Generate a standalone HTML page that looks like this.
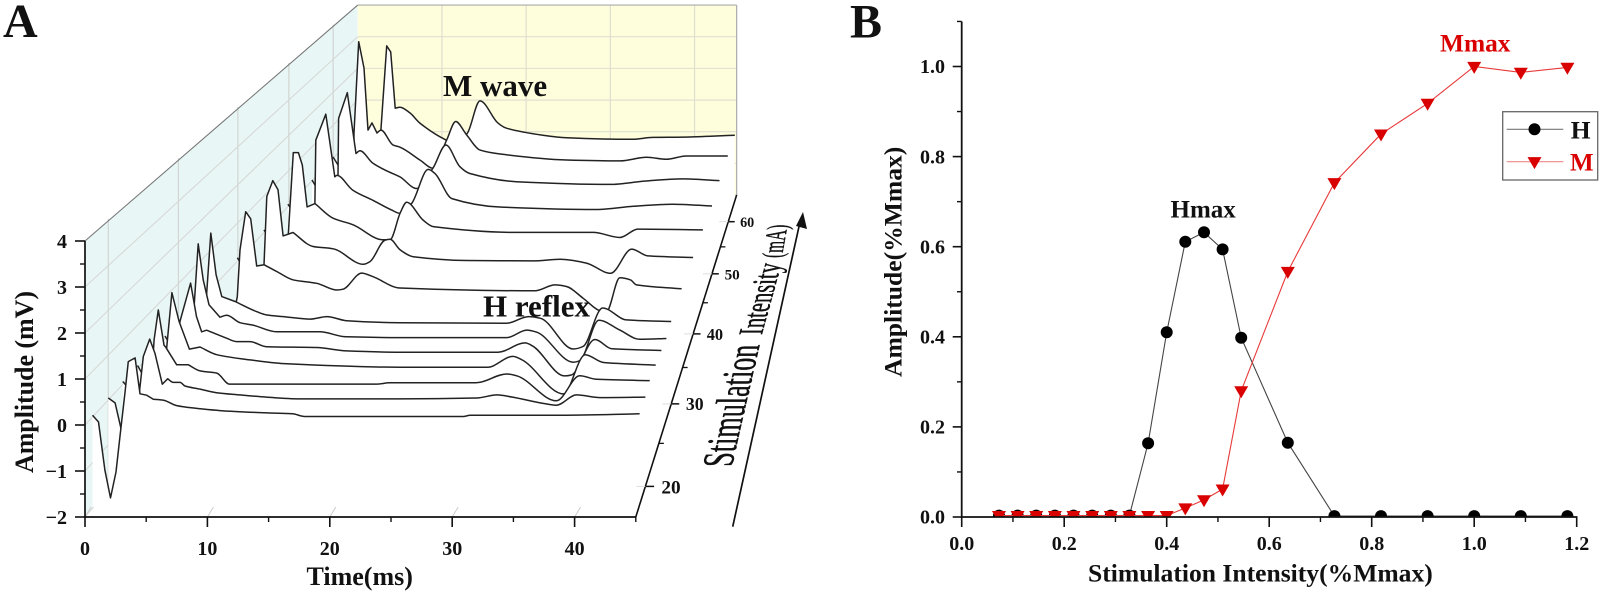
<!DOCTYPE html>
<html lang="en">
<head>
<meta charset="utf-8">
<title>M wave and H reflex recruitment</title>
<style>
html,body{margin:0;padding:0;background:#fff;width:1601px;height:593px;overflow:hidden}
svg{display:block;font-family:"Liberation Serif",serif}
text{font-weight:bold;fill:#111}
</style>
</head>
<body>
<svg id="fig" xmlns="http://www.w3.org/2000/svg" width="1601" height="593" viewBox="0 0 1601 593">
  <defs><clipPath id="plotB"><rect x="961" y="10" width="640" height="507"/></clipPath></defs>
  <g id="walls"></g>
  <g id="traces"></g>
  <g id="axesA"></g>
  <text x="3" y="37" font-size="48">A</text>
  <text x="850" y="37.5" font-size="48">B</text>
  <text x="443" y="96" font-size="31">M wave</text>
  <text x="483" y="316.5" font-size="31">H reflex</text>
  <text x="306.5" y="585" font-size="26">Time(ms)</text>
  <text transform="translate(33,473) rotate(-90)" font-size="26" textLength="182" lengthAdjust="spacing">Amplitude (mV)</text>
  <g>
    <text style="font-weight:normal;stroke:#111;stroke-width:.5" font-size="40" transform="matrix(.15,-.654,1.1,0,731.7,466.7)">Stimulation</text>
    <text style="font-weight:normal;stroke:#111;stroke-width:.5" font-size="33" transform="matrix(.173,-.624,1.05,0,761.7,335)">Intensity</text>
    <text style="font-weight:normal;stroke:#111;stroke-width:.4" font-size="28" transform="matrix(.1,-.55,1.05,0,781.7,258)">(mA)</text>
  </g>
  <line x1="732.7" y1="526.7" x2="800" y2="222" stroke="#111" stroke-width="1.7"/>
  <polygon points="803,212 807,229 796,226" fill="#111"/>
  <g id="axesB"></g>
  <g id="seriesB" clip-path="url(#plotB)"></g>
  <text x="1170.5" y="217.5" font-size="25">Hmax</text>
  <text x="1440" y="51.5" font-size="25.4" style="fill:#d90000">Mmax</text>
  <text x="1088" y="581.5" font-size="25.6">Stimulation Intensity(%Mmax)</text>
  <text transform="translate(901.5,377) rotate(-90)" font-size="25.6">Amplitude(%Mmax)</text>
  <g>
    <rect x="1502.7" y="111.7" width="95" height="68.3" fill="#fff" stroke="#666" stroke-width="1.3"/>
    <g>
      <line x1="1506.7" y1="129.3" x2="1563.3" y2="129.3" stroke="#777" stroke-width="1.2"/>
      <circle cx="1534.5" cy="129.3" r="6" fill="#000"/>
      <text x="1570.7" y="138.3" font-size="25.5">H</text>
    </g>
    <g>
      <line x1="1506.7" y1="161.7" x2="1563.3" y2="161.7" stroke="#ee8888" stroke-width="1.2"/>
      <polygon points="1527.5,157.1 1541.5,157.1 1534.5,169.1" fill="#d90000"/>
      <text x="1570" y="170.7" font-size="25" style="fill:#d90000">M</text>
    </g>
  </g>
</svg>
<script>
// ===== Panel A data: one time array and one amplitude array per stimulation intensity =====
const intensities = [65,60,55,50,45,40,35,30,28,26,24,22,20,18];
const t65=[-.28,.5,1.3,2.2,3.06,3.74,4.21,4.75,5.31,6.49,7.67,10.6,12,13.3,14.77,16.9,17.9,22.2,25,32.8,35.2,38.8,44.9];
const a65=[-.02,-.4,-2,-1,.14,2.79,2.6,.83,.86,.68,.36,-.15,-.3,.05,1.06,.36,.2,-.02,-.1,-.15,-.09,-.08,-.02];
const t60=[-.24,.4,1.3,2.1,2.16,2.7,3.31,3.76,4.22,4.79,5.25,6.62,7.43,9.71,11.2,12.77,13.8,15.06,16.6,18.9,26.5,32.6,35.65,37.9,40.2,44.95];
const a60=[-.03,-.3,-2,-1,.7,3.48,2.68,.79,1.01,.7,.79,.34,.27,-.12,-.37,.49,1.05,.64,.18,.06,-.12,-.15,-.04,-.1,0,0];
const t55=[-.2,.4,1.3,2,2.68,2.75,3.71,4.67,5.11,6.55,8.06,9.54,11.38,13.19,14.62,16.17,17.28,22.4,32.8,36.8,40.8,44.9];
const a55=[-.03,-.3,-2,-1,.11,1.78,2.54,.75,.83,.46,.24,.06,-.28,.32,1,.36,.16,-.08,-.16,-.06,0,-.05];
const t50=[-.33,.4,1.3,2.1,2.56,2.66,3.73,4.69,4.91,6.6,8.76,10.8,11.65,12.9,14.67,15.4,17.2,22.3,32.7,36.6,40.8,45];
const a50=[-.02,-.3,-1.9,-1,0,1.8,2.54,.76,.8,.38,.09,-.19,-.28,0,.97,.85,.14,-.1,-.17,-.08,-.02,-.07];
const t45=[-.25,.4,1.3,2,2.26,2.77,3.29,3.7,4.19,5.01,6.87,8.93,12,12.74,13.8,14.46,16.14,17.2,25.8,33.7,36.45,38.3,45];
const a45=[0,-.3,-1.8,-1,-.08,2.12,2.12,1.78,.63,.72,.32,.14,-.27,-.27,.47,.76,.27,.09,-.07,-.07,-.21,.02,0];
const t40=[-.27,.4,1.3,2,2.38,2.65,3.25,3.77,4.27,5.26,7.25,9.24,12.24,12.9,14.4,14.9,15.9,17.2,22.5,29.1,31.8,34.4,36.8,38.9,40.5,45];
const a40=[.01,-.3,-1.7,-1,-.18,1.63,2.05,1.81,.59,.68,.31,.25,-.16,-.09,.48,.5,.22,.04,-.06,-.07,-.03,-.13,-.4,.24,.06,.02];
const t35=[-.25,.4,1.3,2,2.45,2.71,3.26,3.73,4.31,5.03,6.22,7.77,10.04,11.95,12.55,14.34,15.4,18,30.9,32.8,33.9,35.5,37.1,37.7,39,40,40.6,44.9];
const a35=[.02,-.3,-1.6,-.8,-.2,.99,1.96,1.78,.58,.61,.44,.23,.14,-.03,-.01,.4,.31,.02,-.05,.1,.06,-.24,-.56,-.59,.28,.23,.1,0];
const t30=[-.25,.4,1.3,2.1,2.35,2.75,3.24,3.76,4.98,6.97,7.9,9.39,11.86,13.4,15.2,20.1,29.9,31.9,33,36,36.9,38.7,40.9,45];
const a30=[0,-.3,-1.6,-.5,.6,2.17,1.15,.62,.5,.25,.17,.13,.07,.13,.03,-.02,-.03,.13,.09,-.66,-.6,.34,.05,.01];
const t28=[-.25,.4,1.3,2,2.27,2.75,3.2,3.72,4.71,5.32,6.52,7.69,9.83,13.7,16.1,21,30.6,32.4,33.3,36.6,37.2,38.9,40.8,42.6,45];
const a28=[0,-.3,-1.6,-.3,.26,2.21,1.35,.75,.45,.5,.32,.26,.1,.1,-.02,-.04,-.04,.14,.09,-.63,-.59,.38,.14,-.08,-.06];
const t26=[-.25,.4,1.3,2,2.27,3.22,3.75,4.2,4.64,6.42,7.3,8.48,9.96,14.4,17.06,21.8,30.5,32.9,33.6,36.4,37,39.1,40.6,45];
const a26=[0,-.3,-1.7,-.6,.68,1.59,.8,.44,.48,.29,.21,.21,.09,.07,-.01,-.04,-.04,.18,.1,-.6,-.58,.26,.04,0];
const t24=[-.25,.4,1.3,2,2.31,2.75,3.38,4.28,5.21,6.67,9.57,12.77,22.65,30.3,32.5,33.3,36.9,38.8,40.4,44.95];
const a24=[0,-.3,-1.8,-.5,.44,1.69,1.02,.38,.43,.25,.13,.04,-.04,-.04,.21,.13,-.66,.25,.07,.01];
const t22=[-.27,.2,1.3,2,2.42,2.78,3.27,3.42,4.36,5.36,6.36,7.79,8.87,21.5,22.6,30,32.64,33.5,36.9,38.9,40.35,44.9];
const a22=[-.01,-.15,-1.8,-.8,.94,1.62,.82,.77,.37,.37,.23,.18,-.07,-.07,-.04,-.04,.16,.12,-.45,.12,.04,.01];
const t20=[-.22,.35,.93,1.36,1.86,2.39,2.73,3.27,3.71,4.33,4.78,5.25,5.82,6.24,7.5,8.9,10.87,13.1,15.9,24.3,30.8,32.5,33.8,36.4,37.5,39.2,41.2,45];
const a20=[-.02,-.13,-.8,-1.86,-1.63,.09,.91,1.3,.98,.29,.41,.33,.33,.25,.18,.1,.05,0,-.04,-.04,-.02,.05,0,-.14,-.18,.05,-.01,0];
const t18=[-.24,.26,.79,1.25,1.7,2.03,2.42,2.72,3.28,3.69,4.24,4.79,5.62,6.72,8.38,10.3,14.2,16.3,17.3,22.5,30.4,31,38.4,45];
const a18=[-.03,-.18,-1.24,-1.85,-1.28,-.51,.41,1.15,1.23,.44,.41,.32,.3,.18,.12,.07,.02,0,-.06,-.06,-.06,-.03,-.03,0];
const traceTimes = [t65,t60,t55,t50,t45,t40,t35,t30,t28,t26,t24,t22,t20,t18];
const traceAmps  = [a65,a60,a55,a50,a45,a40,a35,a30,a28,a26,a24,a22,a20,a18];
const timeTicks = [0,10,20,30,40];
const timeMinorTicks = [5,15,25,35,45];
const ampTicks = [-2,-1,0,1,2,3,4];
const ampMinorTicks = [-1.5,-.5,.5,1.5,2.5,3.5];
const depthTicks = [20,30,40,50,60];
const depthMinorTicks = [25,35,45,55];

// ===== Panel B data =====
const stimulationMa = [4,6,8,10,12,14,16,18,20,22,24,26,28,30,35,40,45,50,55,60,65];
const mmaxCurrent = [55];
const hValues = [.003,.003,.003,.003,.003,.003,.003,.003,.1635,.41,.611,.632,.594,.398,.165,.002,.002,.002,.002,.002,.002];
const mValues = [.003,.003,.003,.003,.003,.003,.003,.003,.003,.003,.02,.038,.062,.28,.545,.742,.85,.918,1,.987,.998];
const xTicksB = [0,.2,.4,.6,.8,1,1.2];
const xMinorTicksB = [.1,.3,.5,.7,.9,1.1];
const yTicksB = [0,.2,.4,.6,.8,1];
const yMinorTicksB = [.1,.3,.5,.7,.9,1.1];

const NS='http://www.w3.org/2000/svg';
function mk(tag,parent,attrs){
  const e=document.createElementNS(NS,tag);
  for(const k in attrs){e.setAttribute(k,attrs[k]);}
  parent.appendChild(e);
  return e;
}
function line(parent,x1,y1,x2,y2,stroke,w){
  return mk('line',parent,{x1:x1,y1:y1,x2:x2,y2:y2,stroke:stroke,'stroke-width':w});
}
function label(parent,x,y,size,anchor,str){
  const e=mk('text',parent,{x:x,y:y,'font-size':size,'text-anchor':anchor});
  e.textContent=str;
  return e;
}
function fmt(v){return String(v).replace('-','\u2212');}

// Perspective projection of (time, amplitude, intensity) to page pixels
const VX=959,VY=-515;
function depthScale(c){return 1/(1+0.449*(c-16.7)/48.5);}
function frontX(t){return 85+12.24*t;}
function frontY(a){return 517-46*(a+2);}
function px(t,c){return VX+(frontX(t)-VX)*depthScale(c);}
function py(a,c){return VY+(frontY(a)-VY)*depthScale(c);}
const BACK=65.7,T_MAX=45,A_TOP=4,A_BOT=-2;

// Straight segments through the stimulus spike, monotone cubic afterwards
const SMOOTH_FROM=4.6;
function tracePath(ts,as,c){
  const X=ts.map(function(t){return px(t,c);});
  const Y=as.map(function(a){return py(a,c);});
  const n=X.length;
  const slope=[];
  for(let i=0;i<n-1;i++){slope.push((Y[i+1]-Y[i])/Math.max(X[i+1]-X[i],.01));}
  const tan=[];
  for(let i=0;i<n;i++){
    if(i===0||i===n-1||ts[i-1]<SMOOTH_FROM){tan.push(i<n-1?slope[i]:slope[n-2]);continue;}
    const a=slope[i-1],b=slope[i];
    tan.push(a*b<=0?0:2*a*b/(a+b));
  }
  let d='M'+X[0].toFixed(1)+' '+Y[0].toFixed(1);
  for(let i=0;i<n-1;i++){
    if(ts[i]<SMOOTH_FROM){d+=' L'+X[i+1].toFixed(1)+' '+Y[i+1].toFixed(1);continue;}
    const h=(X[i+1]-X[i])/3;
    d+=' C'+(X[i]+h).toFixed(1)+' '+(Y[i]+tan[i]*h).toFixed(1)+' '+(X[i+1]-h).toFixed(1)+' '+(Y[i+1]-tan[i+1]*h).toFixed(1)+' '+X[i+1].toFixed(1)+' '+Y[i+1].toFixed(1);
  }
  return {d:d,x0:X[0],x1:X[n-1]};
}

// ----- Walls -----
const walls=document.getElementById('walls');
const leftWall=mk('polygon',walls,{points:[[px(0,16.7),py(A_TOP,16.7)],[px(0,BACK),py(A_TOP,BACK)],[px(0,BACK),py(A_BOT,BACK)],[px(0,16.7),py(A_BOT,16.7)]].join(' '),fill:'#e9f6f6'});


const backWall=mk('polygon',walls,{points:[[px(0,BACK),py(A_TOP,BACK)],[px(T_MAX,BACK),py(A_TOP,BACK)],[px(T_MAX,BACK),py(A_BOT,BACK)],[px(0,BACK),py(A_BOT,BACK)]].join(' '),fill:'#fefedd'});


ampTicks.forEach(function(a){
  if(a===A_TOP)return;
  const g1=line(walls,px(0,16.7),py(a,16.7),px(0,BACK),py(a,BACK),'#d6d9d6',1.1);
  
  
  const g2=line(walls,px(0,BACK),py(a,BACK),px(T_MAX,BACK),py(a,BACK),'#dfdfcf',1.1);
  
  
});
depthTicks.forEach(function(c){
  const g=line(walls,px(-.22,c),py(A_TOP,c),px(-.22,c),py(A_BOT,c),'#d2d5d2',1.2);
  
  
});
timeTicks.forEach(function(t){
  if(t===0)return;
  const g=line(walls,px(t,BACK),py(A_TOP,BACK),px(t,BACK),py(A_BOT,BACK),'#dfdfcf',1.2);
  
  
});
const edge1=line(walls,px(0,16.7),py(A_TOP,16.7),px(0,BACK),py(A_TOP,BACK),'#777',1.1);


const edge2=line(walls,px(0,BACK),py(A_TOP,BACK),px(T_MAX,BACK),py(A_TOP,BACK),'#aaa',1.2);


const edge3=line(walls,px(T_MAX,BACK),py(A_TOP,BACK),px(T_MAX,BACK),py(A_BOT,BACK),'#aaa',1.2);



// ----- Traces: back to front, each masks what lies behind it -----
const tracesG=document.getElementById('traces');
intensities.forEach(function(c,i){
  const p=tracePath(traceTimes[i],traceAmps[i],c);
  const mask=mk('path',tracesG,{d:p.d+' L'+p.x1.toFixed(1)+' 507 L'+p.x0.toFixed(1)+' 507 Z',fill:'#fff'});
  
  
  const pl=mk('path',tracesG,{d:p.d,fill:'none',stroke:'#222','stroke-width':1.5,'stroke-linejoin':'round'});
  
  
});

// ----- Panel A axes -----
const axA=document.getElementById('axesA');
timeTicks.forEach(function(t){
  const s=line(axA,frontX(t),517,frontX(t)+6,507,'#ccc',1);
  
  
});
ampTicks.forEach(function(a){
  const tk=line(axA,75,frontY(a),85,frontY(a),'#111',1.6);
  
  
  const lb=label(axA,67,frontY(a)+7,20,'end',fmt(a));
  
  
});
ampMinorTicks.forEach(function(a){
  const tk=line(axA,80,frontY(a),85,frontY(a),'#111',1.4);
  
  
});
timeTicks.forEach(function(t){
  const tk=line(axA,frontX(t),517,frontX(t),527,'#111',1.6);
  
  
  const lb=label(axA,frontX(t),555,20,'middle',String(t));
  
  
});
timeMinorTicks.forEach(function(t){
  const tk=line(axA,frontX(t),517,frontX(t),522,'#111',1.4);
  
  
});
const axAy=line(axA,85,frontY(A_TOP),85,518,'#111',1.7);


const axAx=line(axA,84,517,frontX(T_MAX),517,'#111',1.7);


const axAz=line(axA,frontX(T_MAX),517,px(T_MAX,BACK),py(A_BOT,BACK),'#111',1.6);


depthTicks.forEach(function(c){
  const x=px(T_MAX,c),y=py(A_BOT,c),s=depthScale(c);
  const st=line(axA,x-9,y,x,y,'#ddd',1);
  
  
  const tk=line(axA,x,y,x+9*s,y,'#111',1.5);
  
  
  const size=(19.9*s).toFixed(1);
  const lb=label(axA,x+16.5*s,y+size*.36,size,'start',String(c));
  
  
});
depthMinorTicks.forEach(function(c){
  const x=px(T_MAX,c),y=py(A_BOT,c);
  const tk=line(axA,x,y,x+5,y,'#111',1.3);
  
  
});

// ----- Panel B axes and series -----
function xB(v){return 961.7+512.5*v;}
function yB(v){return 517-450.5*v;}
const axB=document.getElementById('axesB');
xTicksB.forEach(function(v){
  const tk=line(axB,xB(v),517,xB(v),527,'#111',1.6);
  
  
  const lb=label(axB,xB(v),550,20,'middle',v.toFixed(1));
  
  
});
xMinorTicksB.forEach(function(v){
  const tk=line(axB,xB(v),517,xB(v),522,'#111',1.4);
  
  
});
yTicksB.forEach(function(v){
  const tk=line(axB,952.7,yB(v),961.7,yB(v),'#111',1.6);
  
  
  const lb=label(axB,945,yB(v)+6.7,20,'end',v.toFixed(1));
  
  
});
yMinorTicksB.forEach(function(v){
  const tk=line(axB,957,yB(v),961.7,yB(v),'#111',1.4);
  
  
});

const serB=document.getElementById('seriesB');
function ratio(c){return c/mmaxCurrent[0];}
const hLine=mk('polyline',serB,{points:stimulationMa.map(function(c,i){return xB(ratio(c)).toFixed(1)+','+yB(hValues[i]).toFixed(1);}).join(' '),fill:'none',stroke:'#444','stroke-width':1.1});


stimulationMa.forEach(function(c,i){
  const m=mk('circle',serB,{cx:xB(ratio(c)).toFixed(1),cy:yB(hValues[i]).toFixed(1),r:6,fill:'#000'});
  
  
});
const mLine=mk('polyline',serB,{points:stimulationMa.map(function(c,i){return xB(ratio(c)).toFixed(1)+','+yB(mValues[i]).toFixed(1);}).join(' '),fill:'none',stroke:'#e83a3a','stroke-width':1.1});


stimulationMa.forEach(function(c,i){
  const x=xB(ratio(c)),y=yB(mValues[i]);
  const m=mk('polygon',serB,{points:(x-7).toFixed(1)+','+(y-4.6).toFixed(1)+' '+(x+7).toFixed(1)+','+(y-4.6).toFixed(1)+' '+x.toFixed(1)+','+(y+7.4).toFixed(1),fill:'#d90000'});
  
  
});
const axBy=line(axB,961.7,yB(1.1),961.7,518,'#111',1.8);


const axBx=line(document.getElementById('fig'),961,517,xB(1.2)+.8,517,'#111',1.8);


</script>
</body>
</html>
